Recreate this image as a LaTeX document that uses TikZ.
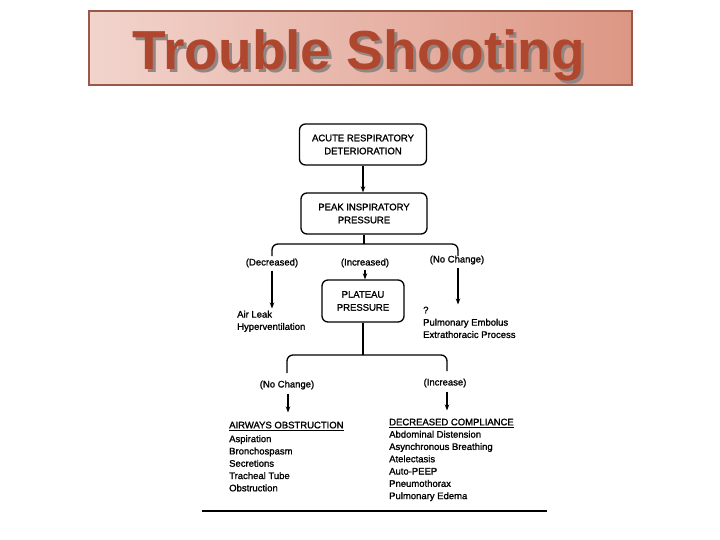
\documentclass[tikz,border=0pt]{standalone}
\usepackage{fontspec}
\setmainfont{Liberation Sans}
\newfontfamily\figfont[FakeBold=1.3]{Liberation Sans}
\usetikzlibrary{arrows.meta,calc}
\definecolor{tbleft}{HTML}{F2D4CD}
\definecolor{tbright}{HTML}{DD9684}
\definecolor{tbborder}{HTML}{9A5848}
\definecolor{titlecol}{HTML}{AE472D}
\definecolor{shadowcol}{HTML}{938582}
\tikzset{
  flowbox/.style={draw, line width=1.3pt, rounded corners=6pt, align=center,
    inner sep=0pt, font=\figfont\fontsize{9.5}{13}\selectfont},
  lbl/.style={inner sep=0pt, font=\figfont\fontsize{9.5}{12}\selectfont},
  listtxt/.style={inner sep=0pt, align=left, anchor=north west, font=\figfont\fontsize{9.5}{12.3}\selectfont},
  arr/.style={line width=1.2pt, -{Stealth[length=6pt,width=4.5pt]}},
  conn/.style={line width=1.3pt, rounded corners=6pt},
}
\begin{document}
\begin{tikzpicture}[x=1pt,y=-1pt]
\useasboundingbox (0,0) rectangle (720,540);
% title
\shade[left color=tbleft, right color=tbright] (89,11) rectangle (632,85);
\draw[tbborder, line width=1.8pt] (89,11) rectangle (632,85);
\node[anchor=base, text=titlecol, inner sep=0pt, font=\fontsize{55}{60}\selectfont\bfseries] (title) at (359,70)
  {\rlap{\hspace{3pt}\raisebox{-3pt}{\color{shadowcol}Trouble Shooting}}Trouble Shooting};
% boxes
\node[flowbox, minimum width=127pt, minimum height=41pt] (ard) at (363,144.5) {ACUTE RESPIRATORY\\DETERIORATION};
\node[flowbox, minimum width=126pt, minimum height=41pt] (pip) at (364,213.5) {PEAK INSPIRATORY\\PRESSURE};
\node[flowbox, minimum width=82pt, minimum height=42pt] (pp) at (363,301) {PLATEAU\\PRESSURE};
\draw[arr] (ard.south) -- (ard.south |- pip.north);
% first branch
\coordinate (b1) at (364,244);
\draw[conn] (pip.south) -- (b1);
\draw[conn] (272,256) -- (272,244) -- (458,244) -- (458,256);
\node[lbl] (dec) at (272,263) {(Decreased)};
\node[lbl] (inc) at (365,263) {(Increased)};
\node[lbl] (nch) at (457,260) {(No Change)};
\draw[arr] ([yshift=-2pt]inc.south) -- (inc.south |- pp.north);
\node[listtxt] (leak) at (237,310.5) {Air Leak\\Hyperventilation};
\node[listtxt] (pe) at (423,306.5) {?\\Pulmonary Embolus\\Extrathoracic Process};
\draw[arr] ([yshift=-3pt]dec.south) -- ([yshift=2pt]dec.south |- leak.north);
\draw[arr] ([yshift=-3pt]nch.south -| 458,0) -- ([yshift=2pt]458,0 |- pe.north);
% second branch
\coordinate (b2) at (pp.south |- 0,355);
\draw[conn] (pp.south) -- (b2);
\draw[conn] (287,373) -- (287,355) -- (447,355) -- (447,371);
\node[lbl] (nc2) at (287,385) {(No Change)};
\node[lbl] (incr) at (445,383) {(Increase)};
\node[listtxt] (aw) at (229,421.5) {\underline{AIRWAYS OBSTRUCTION}\\[1.5pt]Aspiration\\Bronchospasm\\Secretions\\Tracheal Tube\\Obstruction};
\node[listtxt] (dc) at (389,418.5) {\underline{DECREASED COMPLIANCE}\\Abdominal Distension\\Asynchronous Breathing\\Atelectasis\\Auto-PEEP\\Pneumothorax\\Pulmonary Edema};
\draw[arr, shorten >=9pt] ([yshift=-4pt]nc2.south -| 288,0) -- (288,0 |- aw.north);
\draw[arr, shorten >=8pt] ([yshift=-4pt]incr.south -| 447,0) -- (447,0 |- dc.north);
% bottom rule
\draw[line width=1.2pt] (202,511) -- (547,511);
\end{tikzpicture}
\end{document}
